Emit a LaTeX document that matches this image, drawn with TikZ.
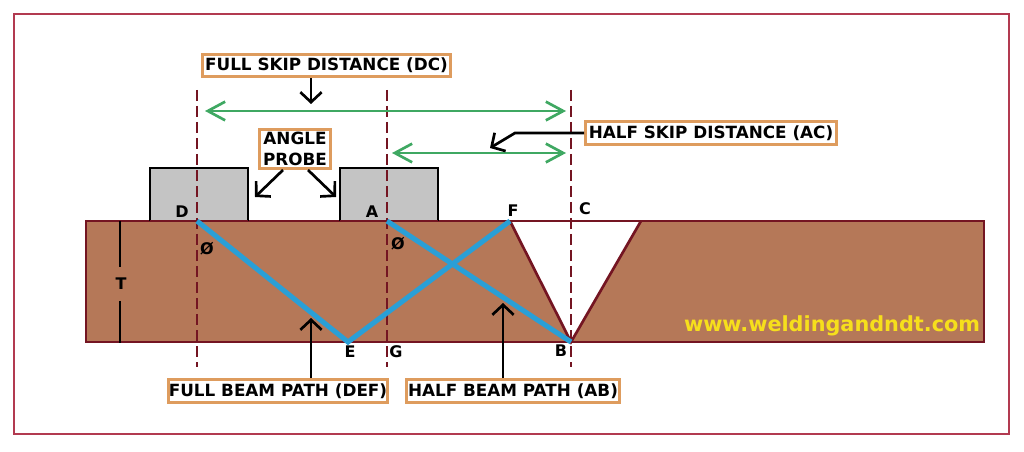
\documentclass[tikz,border=0pt]{standalone}
\usepackage{fontspec}
\setmainfont{DejaVu Sans}
\usetikzlibrary{arrows.meta}
\definecolor{framered}{HTML}{B23A50}
\definecolor{platebrown}{HTML}{B57858}
\definecolor{weldline}{HTML}{741522}
\definecolor{boxorange}{HTML}{DE9C5E}
\definecolor{beamblue}{HTML}{2A9FD6}
\definecolor{skipgreen}{HTML}{3FA862}
\definecolor{probegray}{HTML}{C4C4C4}
\definecolor{siteyellow}{HTML}{F6DF1C}
\tikzset{
    tag/.style={draw=boxorange,line width=2.4pt,fill=white,inner sep=0pt,align=center,font=\bfseries\fontsize{12.6}{15.5}\selectfont},
    letter/.style={font=\bfseries\fontsize{12}{14}\selectfont,inner sep=0pt},
    blackarrow/.style={line width=2pt,-{Straight Barb[length=7.5pt,width=16pt,line width=2pt]}},
    greenarrow/.style={skipgreen,line width=2pt,{Straight Barb[length=13pt,width=14pt,line width=2pt]}-{Straight Barb[length=13pt,width=14pt,line width=2pt]}},
    beam/.style={beamblue,line width=3.8pt},
    centerline/.style={weldline,line width=2pt,dash pattern=on 8pt off 4pt}
}
\begin{document}
\begin{tikzpicture}[x=0.75pt,y=-0.75pt]
    \useasboundingbox (0,0) rectangle (1024,452);
    \draw[framered,line width=1.9pt] (14,14) rectangle (1009,434);
    % plate and groove
    \draw[weldline,fill=platebrown,line width=2pt] (86,221) rectangle (984,342);
    \fill[white] (510,221) -- (571,342) -- (641,221) -- cycle;
    \draw[weldline,line width=1.1pt] (510,221) -- (641,221);
    \draw[weldline,line width=2pt] (510,221) -- (571,342) -- (641,221);
    % probes
    \draw[fill=probegray,line width=1.9pt] (150,221) |- (248,168) -- (248,221);
    \draw[fill=probegray,line width=1.9pt] (340,221) |- (438,168) -- (438,221);
    \draw[weldline,line width=2pt] (150,221) -- (248,221) (340,221) -- (438,221);
    % points
    \coordinate (D) at (197,221);
    \coordinate (E) at (348,342);
    \coordinate (F) at (510,221);
    \coordinate (A) at (387,221);
    \coordinate (B) at (571,342);
    \coordinate (full top) at (197,90);
    \coordinate (full bottom) at (197,367);
    \coordinate (half top) at (387,90);
    \coordinate (half bottom) at (387,367);
    \coordinate (weld top) at (571,90);
    \coordinate (weld bottom) at (571,367);
    % centre lines
    \draw[centerline] (full top) -- (full bottom);
    \draw[centerline] (half top) -- (half bottom);
    \draw[centerline] (weld top) -- (weld bottom);
    % beam path
    \draw[beam,line join=miter] (D) -- (E) -- (F);
    \draw[beam] (A) -- (B);
    % skip distances
    \coordinate (full left) at (205,111);
    \coordinate (full right) at (566,111);
    \coordinate (half left) at (392,153);
    \coordinate (half right) at (566,153);
    \draw[greenarrow] (full left) -- (full right);
    \draw[greenarrow] (half left) -- (half right);
    % labels
    \node[tag,minimum width=186pt,minimum height=17pt] (fullskip) at (326.5,65.5) {FULL SKIP DISTANCE (DC)};
    \node[tag,minimum width=188pt,minimum height=17pt] (halfskip) at (711,133) {HALF SKIP DISTANCE (AC)};
    \node[tag,minimum width=53pt,minimum height=29pt] (probe) at (295,149) {ANGLE\\PROBE};
    \node[tag,minimum width=164pt,minimum height=17pt] (fullbeam) at (278,391) {FULL BEAM PATH (DEF)};
    \node[tag,minimum width=160pt,minimum height=17pt] (halfbeam) at (513,391) {HALF BEAM PATH (AB)};
    \node[letter] (lblD) at (182,212) {D};
    \node[letter] (lblA) at (372,212) {A};
    \node[letter] (lblF) at (513,211) {F};
    \node[letter] (lblC) at (585,209) {C};
    \node[letter,minimum height=25pt] (lblT) at (121,284) {T};
    \node[letter] (lblE) at (350,352) {E};
    \node[letter] (lblG) at (396,352) {G};
    \node[letter] (lblB) at (561,351) {B};
    \node[letter] (angD) at (207,249) {Ø};
    \node[letter] (angA) at (398,244) {Ø};
    \node[font=\bfseries\fontsize{15.6}{18}\selectfont,siteyellow,inner sep=0pt] (site) at (832,326) {www.weldingandndt.com};
    % thickness
    \coordinate (T top) at (120,221);
    \coordinate (T bottom) at (120,343);
    \draw[line width=2pt] (T top) -- (T top |- lblT.north);
    \draw[line width=2pt] (T bottom |- lblT.south) -- (T bottom);
    % pointers
    \coordinate (skip tip) at (311,104);
    \coordinate (probe left) at (255,197);
    \coordinate (probe right) at (336,197);
    \coordinate (halfskip bend) at (515,133);
    \coordinate (halfskip tip) at (490,148);
    \coordinate (fullbeam tip) at (311,318);
    \coordinate (halfbeam tip) at (503,303);
    \draw[blackarrow] (fullskip.south -| skip tip) -- (skip tip);
    \draw[blackarrow] (283,170) -- (probe left);
    \draw[blackarrow] (308,170) -- (probe right);
    \draw[blackarrow] (halfskip.west) -- (halfskip bend) -- (halfskip tip);
    \draw[blackarrow] (fullbeam.north -| fullbeam tip) -- (fullbeam tip);
    \draw[blackarrow] (halfbeam.north -| halfbeam tip) -- (halfbeam tip);
\end{tikzpicture}
\end{document}
